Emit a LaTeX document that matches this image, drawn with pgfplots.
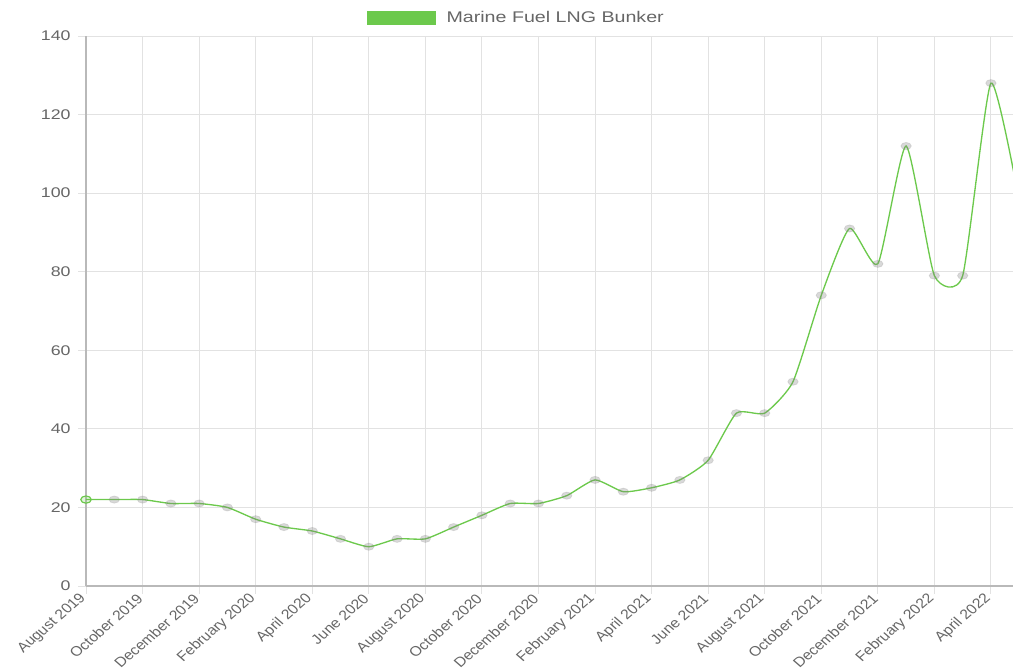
\documentclass[border=0pt]{standalone}
\usepackage{fontspec}
\setmainfont{Liberation Sans}
\newfontfamily\widefont[FakeStretch=1.27]{Liberation Sans}
\usepackage{pgfplots}
\pgfplotsset{compat=1.18}
\definecolor{lng}{RGB}{108,201,76}
\definecolor{txt}{RGB}{102,102,102}
\definecolor{gridc}{RGB}{226,226,226}
\definecolor{axc}{RGB}{185,185,185}
\begin{document}
\begin{tikzpicture}
\useasboundingbox (-64.5pt,-63pt) rectangle (695.25pt,439.5pt);
\begin{axis}[
  at={(0,0)}, anchor=south west,
  scale only axis, width=695.25pt, height=412.5pt,
  xmin=0, xmax=32.78, ymin=0, ymax=140,
  axis x line*=bottom, axis y line*=left,
  axis line style={draw=axc, line width=0.8pt},
  xtick={0,2,...,32},
  xticklabels={August 2019,October 2019,December 2019,February 2020,April 2020,June 2020,August 2020,October 2020,December 2020,February 2021,April 2021,June 2021,August 2021,October 2021,December 2021,February 2022,April 2022},
  ytick={0,20,...,140},
  grid=major,
  major grid style={draw=gridc, line width=0.7pt},
  tick align=outside, major tick length=6pt,
  tick style={draw=gridc, line width=0.7pt},
  /pgf/number format/assume math mode=true,
  xticklabel style={font=\fontsize{10.3}{12}\selectfont, text=txt, xscale=1.15, rotate=45, anchor=east, xshift=1pt, yshift=0pt},
  yticklabel style={font=\widefont\fontsize{10.5}{12}\selectfont, text=txt, xshift=-2pt},
  legend style={draw=none, fill=none, at={(0.4644,1.0327)}, anchor=center, font=\widefont\fontsize{11.6}{13}\selectfont, text=txt, legend cell align=left},
  legend image code/.code={\fill[lng] (0pt,-4.5pt) rectangle (51pt,4.5pt); \path (57pt,0pt);},
]
\addplot[lng, line width=1pt, smooth, tension=0.34,
  mark=*, mark size=2.7pt, mark indices={2,...,33},
  mark options={xscale=1.45, draw=gray, draw opacity=0.2, fill=gray, fill opacity=0.3, line width=0.6pt}]
  table {
x y
0 22
1 22
2 22
3 21
4 21
5 20
6 17
7 15
8 14
9 12
10 10
11 12
12 12
13 15
14 18
15 21
16 21
17 23
18 27
19 24
20 25
21 27
22 32
23 44
24 44
25 52
26 74
27 91
28 82
29 112
30 79
31 79
32 128
33 98
};
\addlegendentry{Marine Fuel LNG Bunker}
\addplot[only marks, mark=*, mark size=2.7pt, mark options={xscale=1.45, draw=lng, fill=lng, fill opacity=0.2, line width=0.9pt}, forget plot]
  coordinates {(0,22)};
\end{axis}
\end{tikzpicture}
\end{document}
